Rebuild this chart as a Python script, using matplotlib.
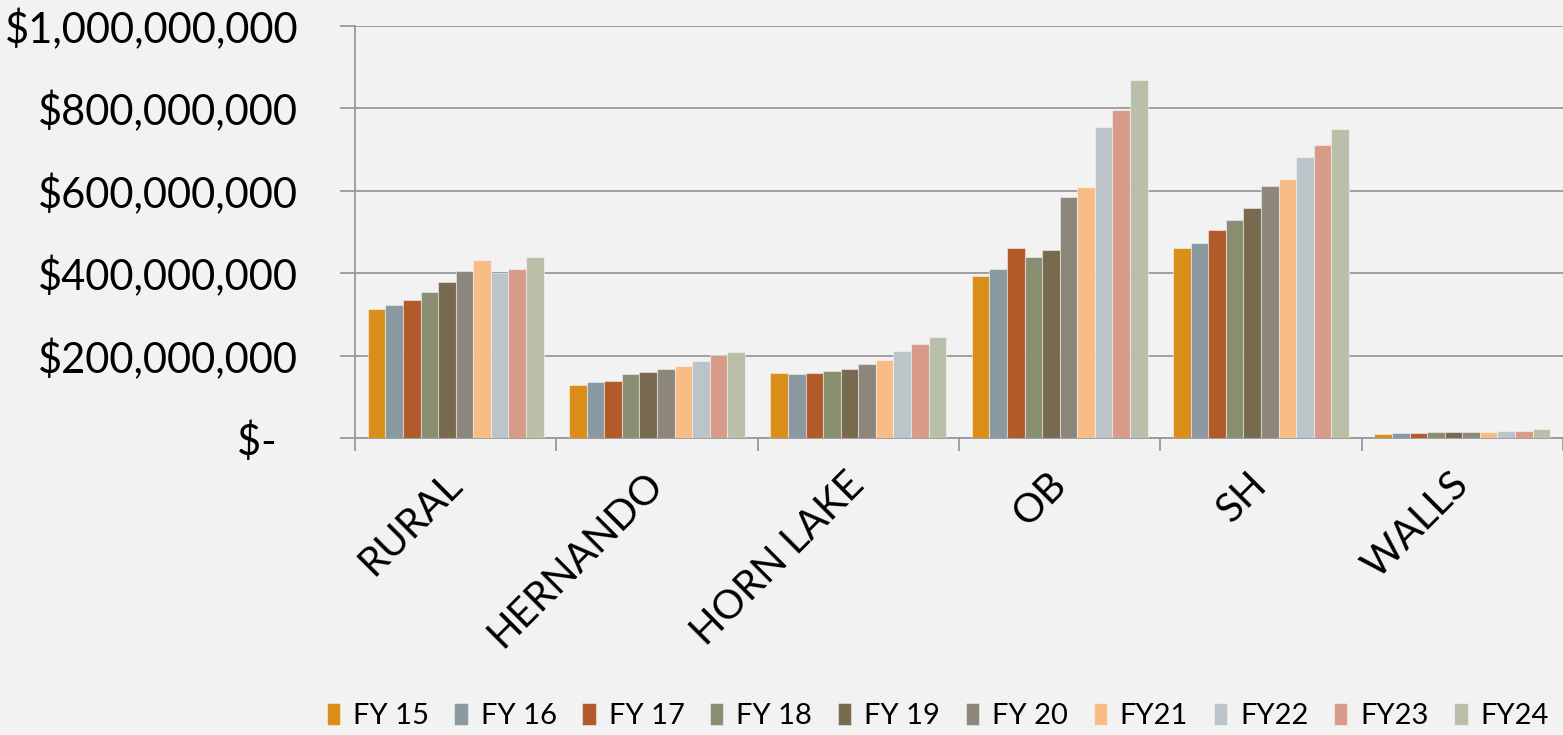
import matplotlib.pyplot as plt
import numpy as np

plt.rcParams['font.family'] = ['Lato', 'DejaVu Sans']

cities = ['RURAL', 'HERNANDO', 'HORN LAKE', 'OB', 'SH', 'WALLS']
years = ['FY 15', 'FY 16', 'FY 17', 'FY 18', 'FY 19', 'FY 20', 'FY21', 'FY22', 'FY23', 'FY24']

# values in millions of dollars, one list per city (FY15 .. FY24)
rural = [312, 322, 336, 354, 378, 406, 431, 400, 411, 439]
hernando = [129, 136, 139, 155, 160, 167, 175, 187, 202, 209]
horn_lake = [158, 156, 158, 162, 167, 179, 190, 212, 229, 246]
ob = [392, 410, 460, 439, 457, 585, 610, 754, 796, 869]
sh = [460, 474, 504, 529, 558, 611, 628, 683, 710, 749]
walls = [10.4, 12.8, 13, 13.6, 15, 15, 15.5, 17.7, 17.7, 21]

colors = ['#DA8E1A', '#8A999F', '#B15A2A', '#8A8E71', '#786A4F',
          '#8D867A', '#F8BC87', '#BAC4C9', '#D99B89', '#BABFAA']

y_ticks = [0, 200e6, 400e6, 600e6, 800e6, 1000e6]
y_labels = ['$-  ', '$200,000,000', '$400,000,000', '$600,000,000',
            '$800,000,000', '$1,000,000,000']

data = np.array([rural, hernando, horn_lake, ob, sh, walls]) * 1e6

fig = plt.figure(figsize=(15.63, 7.35), dpi=100)
fig.patch.set_facecolor('#f2f2f2')
ax = fig.add_axes([355 / 1563, (735 - 438) / 735, 1 - 355 / 1563, (438 - 26) / 735])
ax.set_facecolor('#f2f2f2')

x = np.arange(len(cities))
group = 0.873
w = group / len(years)
for i, yr in enumerate(years):
    ax.bar(x - group / 2 + w * (i + 0.5), data[:, i], width=w, color=colors[i],
           edgecolor=(1, 1, 1, 0.45), linewidth=0.8, label=yr, zorder=3)

grid_c = '#999999'
ax.set_xlim(-0.5, len(cities) - 0.5)
ax.set_ylim(0, 1e9)
ax.set_yticks(y_ticks)
ax.set_yticklabels(y_labels, fontsize=30)
ax.yaxis.grid(True, color=grid_c, linewidth=1.3, zorder=0)
ax.tick_params(axis='y', length=11, width=1.3, color=grid_c, pad=30)

ax.set_xticks(x)
ax.set_xticklabels(cities, fontsize=29, rotation=45, ha='right', va='center',
                   rotation_mode='anchor')
ax.tick_params(axis='x', length=0, pad=29)
ax.set_xticks(np.arange(len(cities) + 1) - 0.5, minor=True)
ax.tick_params(axis='x', which='minor', length=9, width=1.3, color=grid_c)

for s in ['top', 'right']:
    ax.spines[s].set_visible(False)
for s in ['left', 'bottom']:
    ax.spines[s].set_color(grid_c)
    ax.spines[s].set_linewidth(1.3)

fig.legend(loc='lower center', bbox_to_anchor=(0.6, -0.028), ncol=10, frameon=False,
           fontsize=21, handlelength=0.45, handleheight=0.75, handletextpad=0.45,
           columnspacing=0.88)

fig.savefig('out.png', dpi=100, facecolor=fig.get_facecolor())
